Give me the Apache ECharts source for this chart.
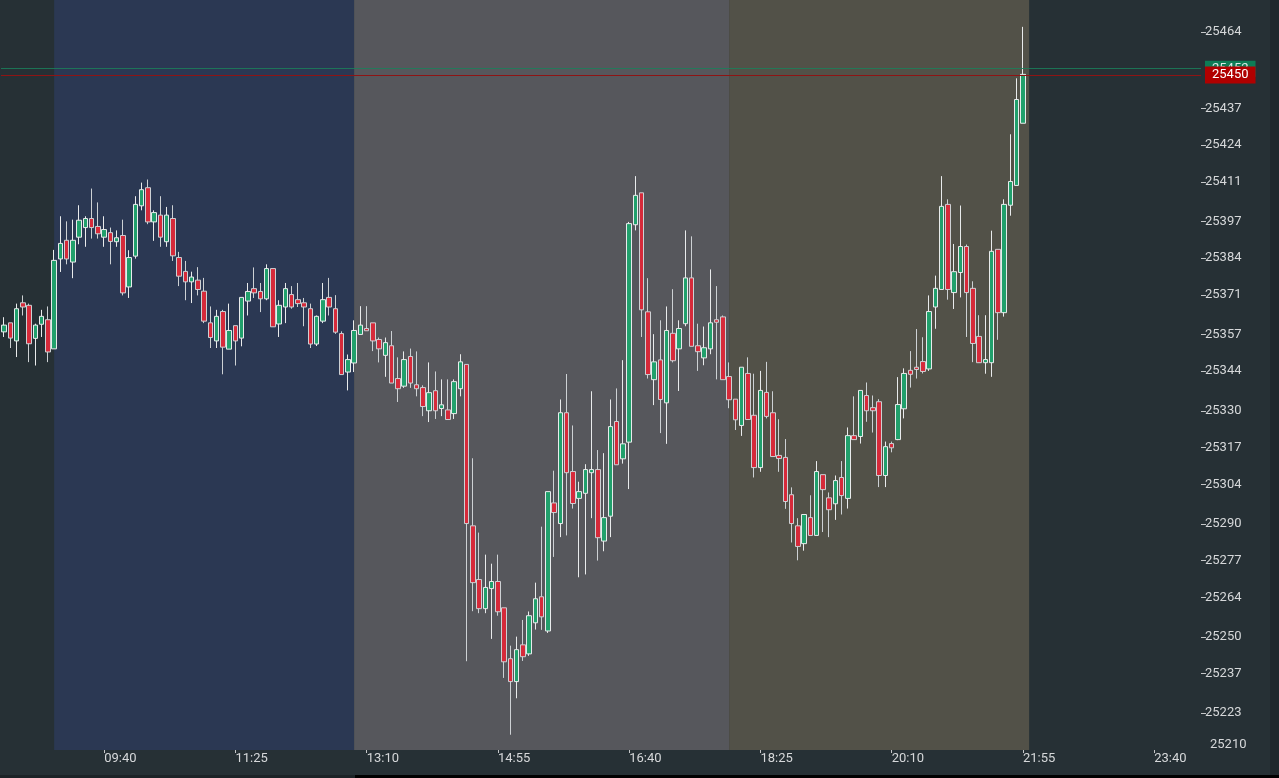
<!DOCTYPE html>
<html>
<head>
<meta charset="utf-8">
<script src="https://cdn.jsdelivr.net/npm/echarts@6/dist/echarts.min.js"></script>
<style>
html,body{margin:0;padding:0;background:#263035;}
#chart{width:1279px;height:778px;}
</style>
</head>
<body>
<div id="chart"></div>
<script>
// 5-minute candles starting 08:20
const firstSlot = '08:20';
const slotMinutes = 5;
const slotCount = 192;

const opens = [
25357.9,25361.1,25354.7,25368.2,25367.3,25355.6,25360.6,25362.2,25351.9,25383.7,
25390.3,25382.6,25391.4,25394.8,25398.0,25395.2,25391.4,25393.0,25389.8,25392.0,
25373.8,25384.7,25402.5,25408.9,25396.8,25399.2,25389.8,25398.0,25384.2,25379.3,
25375.6,25376.2,25372.3,25361.1,25354.7,25365.1,25351.8,25360.1,25355.7,25368.8,
25373.2,25372.2,25369.6,25380.3,25360.7,25366.7,25371.1,25369.3,25368.2,25366.1,
25353.6,25361.7,25370.1,25366.1,25357.3,25343.7,25346.9,25357.0,25359.1,25361.1,
25355.2,25349.6,25353.0,25341.4,25338.7,25349.2,25339.2,25338.2,25330.0,25337.1,
25330.8,25330.3,25329.0,25337.8,25346.4,25289.3,25270.3,25260.0,25267.1,25269.6,
25260.3,25242.3,25234.2,25247.2,25244.0,25255.0,25264.2,25252.1,25297.4,25290.1,
25329.3,25308.5,25299.0,25300.8,25308.1,25309.2,25283.9,25292.7,25326.2,25313.0,
25318.9,25395.8,25407.1,25365.0,25341.0,25348.0,25332.8,25357.4,25351.9,25360.8,
25377.0,25353.0,25348.7,25351.9,25362.2,25363.2,25342.1,25334.1,25324.8,25343.2,
25328.4,25309.9,25336.5,25329.3,25314.2,25313.5,25300.3,25289.3,25283.0,25292.2,
25285.9,25307.4,25299.2,25297.1,25306.4,25299.0,25321.2,25320.9,25335.4,25331.1,
25333.2,25307.1,25318.4,25319.8,25330.7,25344.3,25345.4,25347.4,25344.8,25366.7,
25372.9,25403.0,25371.8,25378.9,25388.1,25373.3,25356.3,25347.0,25347.0,25387.1,
25364.7,25402.7,25409.7,25431.7
];
const closes = [
25360.3,25355.7,25366.1,25366.7,25353.7,25360.3,25363.4,25350.8,25383.2,25389.2,
25383.7,25390.3,25397.4,25398.0,25394.8,25392.6,25394.1,25389.9,25391.2,25371.7,
25384.2,25403.0,25408.2,25396.8,25400.1,25391.4,25399.2,25384.8,25377.6,25375.6,
25377.3,25372.9,25361.7,25355.9,25363.4,25352.5,25358.4,25354.7,25370.1,25372.2,
25371.7,25369.6,25380.3,25359.7,25367.3,25373.2,25366.7,25367.9,25366.7,25353.6,
25363.4,25369.3,25366.7,25357.8,25342.8,25348.1,25358.4,25360.3,25358.3,25354.7,
25351.9,25354.1,25339.8,25337.8,25348.1,25339.8,25337.8,25331.5,25336.4,25330.0,
25332.1,25326.9,25340.3,25347.3,25290.1,25269.2,25260.0,25267.5,25269.6,25258.9,
25241.2,25234.2,25245.5,25243.0,25257.5,25263.5,25257.1,25301.4,25294.0,25329.3,
25308.1,25297.2,25301.4,25309.2,25309.2,25285.1,25292.2,25324.4,25310.9,25318.3,
25396.2,25406.2,25365.7,25342.8,25347.3,25334.0,25358.4,25347.7,25359.1,25377.0,
25352.8,25350.9,25352.3,25361.1,25361.3,25341.0,25333.9,25326.8,25345.4,25326.9,
25309.9,25337.2,25328.0,25313.8,25313.1,25297.9,25290.1,25282.0,25293.3,25285.9,
25308.5,25302.1,25295.0,25305.3,25300.0,25321.2,25319.8,25337.2,25330.0,25330.0,
25307.1,25317.3,25316.9,25332.2,25343.2,25342.9,25344.6,25343.9,25365.1,25373.3,
25402.3,25372.9,25379.2,25388.1,25371.8,25353.8,25347.0,25348.1,25386.4,25364.7,
25403.0,25411.1,25440.1,25449.0
];
const lows = [
25356.1,25352.2,25349.0,25363.7,25347.2,25346.0,25356.1,25347.2,25351.9,25379.1,
25381.8,25376.9,25388.9,25388.0,25390.9,25390.9,25388.0,25381.8,25388.0,25370.8,
25369.9,25383.8,25400.9,25396.0,25390.1,25388.0,25388.0,25383.0,25374.1,25369.1,
25368.1,25370.8,25361.0,25352.2,25352.2,25342.9,25351.8,25346.0,25352.8,25363.7,
25369.9,25364.9,25369.1,25359.7,25356.1,25361.0,25366.1,25366.7,25359.9,25352.2,
25352.9,25361.0,25363.7,25357.2,25342.8,25337.2,25343.7,25357.0,25358.3,25351.1,
25347.1,25342.0,25339.8,25333.1,25338.1,25338.1,25335.1,25328.1,25326.0,25327.1,
25328.1,25326.9,25327.1,25335.1,25241.4,25259.1,25258.4,25258.4,25249.3,25257.5,
25235.5,25215.4,25228.3,25241.5,25243.3,25252.6,25252.5,25251.4,25278.3,25285.3,
25285.9,25295.4,25271.1,25272.1,25292.0,25277.0,25280.3,25285.3,25310.9,25311.3,
25302.3,25393.8,25356.1,25341.4,25332.0,25322.1,25318.3,25347.1,25337.0,25359.9,
25352.8,25344.1,25346.1,25350.0,25341.1,25341.0,25330.9,25323.2,25321.1,25326.9,
25306.4,25308.4,25327.3,25313.8,25308.4,25295.3,25283.4,25277.1,25280.5,25285.9,
25285.9,25287.1,25285.3,25291.4,25293.3,25295.4,25319.8,25318.4,25326.1,25322.3,
25303.0,25303.0,25315.3,25319.6,25327.3,25338.2,25341.4,25343.2,25344.1,25359.0,
25372.9,25369.3,25366.0,25370.1,25356.1,25347.2,25347.0,25343.1,25342.0,25355.1,
25363.3,25399.0,25409.7,25431.7
];
const highs = [
25363.1,25361.1,25367.9,25370.8,25367.9,25360.8,25365.7,25366.9,25386.9,25398.8,
25397.0,25397.6,25402.7,25398.8,25408.6,25403.7,25398.8,25394.8,25393.8,25397.6,
25386.8,25405.9,25410.7,25411.8,25400.9,25405.9,25402.1,25402.7,25386.2,25383.0,
25379.2,25380.8,25377.0,25366.9,25365.7,25365.7,25367.9,25360.1,25370.1,25375.2,
25380.7,25375.2,25381.8,25380.3,25369.1,25375.2,25374.1,25375.2,25369.9,25367.9,
25363.7,25375.2,25377.0,25370.9,25358.1,25349.9,25362.0,25367.0,25367.0,25361.1,
25355.9,25355.9,25358.2,25348.9,25351.0,25352.0,25351.0,25339.0,25347.1,25343.9,
25341.1,25341.1,25341.1,25350.0,25346.4,25313.2,25286.9,25279.1,25275.9,25279.1,
25260.3,25246.9,25250.1,25256.0,25259.0,25269.2,25289.0,25301.4,25308.8,25334.0,
25343.0,25324.8,25304.9,25311.1,25336.9,25316.1,25315.0,25334.0,25337.9,25347.9,
25396.8,25413.0,25407.1,25376.9,25357.1,25362.0,25366.9,25373.0,25362.0,25393.8,
25391.7,25360.8,25359.8,25380.0,25374.1,25363.7,25347.1,25334.1,25345.4,25348.9,
25343.1,25344.1,25347.3,25336.9,25327.0,25320.0,25302.9,25292.0,25293.3,25300.1,
25312.2,25307.4,25301.1,25307.1,25312.2,25324.1,25335.1,25337.2,25340.0,25335.4,
25334.1,25319.1,25319.1,25341.9,25345.0,25351.1,25358.9,25356.0,25370.8,25377.8,
25413.0,25404.8,25389.0,25402.6,25388.8,25375.8,25363.8,25363.8,25393.7,25387.1,
25404.8,25427.8,25447.6,25465.8
];

// price axis labels
const yTickLabels = [25210,25223,25237,25250,25264,25277,25290,25304,25317,25330,25344,25357,25371,25384,25397,25411,25424,25437,25464];
const yAxisMin = 25210;
const yAxisMax = 25475.3;

// sessions (background bands)
const sessionStarts = ['09:00','13:00','18:00'];
const sessionEnds   = ['13:00','18:00','22:00'];
const sessionColors = ['#2b3853','#56575c','#525148'];

// price lines: displayed quote and the level where its line is drawn
const askPrice = 25452;
const askLine = 25451.0;
const lastPrice = 25450;
const lastLine = 25448.8;

const firstLabelIndex = 16;  // 09:40
const labelEvery = 21;       // every 1h45

function pad(n){return (n<10?'0':'')+n;}
const startParts = firstSlot.split(':');
const startMin = (+startParts[0])*60 + (+startParts[1]);
const categories = [];
for (let i=0;i<slotCount;i++){
  const m = (startMin + i*slotMinutes) % 1440;
  categories.push(pad(Math.floor(m/60))+':'+pad(m%60));
}
const candleData = opens.map((o,i)=>[o, closes[i], lows[i], highs[i]]);
const showIdx = (i)=> i>=firstLabelIndex && (i-firstLabelIndex)%labelEvery===0;

const chart = echarts.init(document.getElementById('chart'), null, {renderer:'canvas'});
const font = 'Roboto';
chart.setOption({
  backgroundColor:'#263035',
  animation:false,
  grid:{left:1,right:78,top:0,bottom:28},
  xAxis:{
    type:'category',
    data:categories,
    boundaryGap:true,
    axisLine:{show:false},
    axisTick:{show:true,alignWithLabel:true,interval:(i)=>showIdx(i),length:3,lineStyle:{color:'#c4c6c8'}},
    axisLabel:{interval:(i)=>showIdx(i),align:'left',margin:2,padding:[0,0,0,0],color:'#d6d8da',fontSize:13,fontFamily:font},
    splitLine:{show:false}
  },
  yAxis:{
    type:'value',
    position:'right',
    min:yAxisMin,
    max:yAxisMax,
    scale:true,
    axisLine:{show:false},
    splitLine:{show:false},
    axisTick:{show:true,length:5,lineStyle:{color:'#c4c6c8'},customValues:yTickLabels.filter(v=>v!==yAxisMin)},
    axisLabel:{
      customValues:yTickLabels,
      margin:4,
      color:'#d6d8da',fontSize:13,fontFamily:font,
      formatter:(v)=> v===yAxisMin ? '{edge|'+v+'}' : String(v),
      rich:{edge:{color:'#d6d8da',fontSize:13,fontFamily:font,padding:[0,0,11,5]}}
    }
  },
  series:[
    {
      type:'line',
      data:[],
      z:0,
      silent:true,
      markArea:{
        silent:true,
        data: sessionStarts.map((s,i)=>[{xAxis:s,itemStyle:{color:sessionColors[i],opacity:1}},{xAxis:sessionEnds[i]}])
      }
    },
    {
      type:'candlestick',
      data:candleData,
      z:3,
      barWidth:5,
      itemStyle:{
        color:'#21a06c',
        color0:'#d62a3a',
        borderColor:'#e9ebec',
        borderColor0:'#cdd1d4',
        borderWidth:1
      },
      markLine:{
        silent:true,
        symbol:['none','none'],
        animation:false,
        data:[
          {yAxis:askLine,lineStyle:{color:'#1b7f5a',width:1,type:'solid',opacity:0.85},
           label:{show:true,position:'end',distance:4,formatter:String(askPrice),color:'#ffffff',backgroundColor:'#0b8a5c',padding:[2,7,1,7],fontSize:13,fontFamily:font}},
          {yAxis:lastLine,lineStyle:{color:'#8e1414',width:1,type:'solid'},
           label:{show:true,position:'end',distance:4,formatter:String(lastPrice),color:'#ffffff',backgroundColor:'#b00000',padding:[2,7,2,7],fontSize:13,fontFamily:font}}
        ]
      }
    }
  ],
  graphic:[
    {type:'rect',left:1270,top:0,shape:{width:9,height:775},style:{fill:'#1f282c'},silent:true,z:100},
    {type:'rect',left:0,top:775,shape:{width:355,height:3},style:{fill:'#1c2327'},silent:true,z:100},
    {type:'rect',left:355,top:775,shape:{width:924,height:3},style:{fill:'#000000'},silent:true,z:100}
  ]
});
</script>
</body>
</html>
